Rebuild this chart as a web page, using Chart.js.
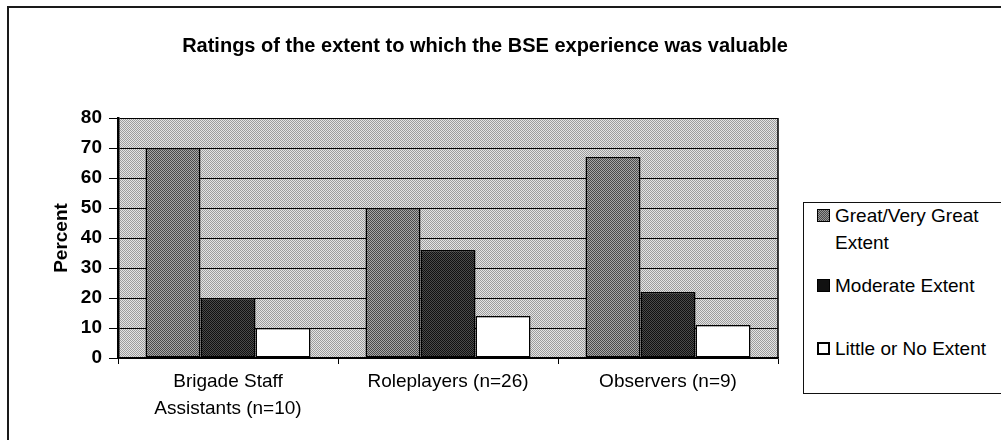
<!DOCTYPE html>
<html>
<head>
<meta charset="utf-8">
<script src="https://cdn.jsdelivr.net/npm/chart.js@4/dist/chart.umd.min.js"></script>
<style>
  html, body { margin: 0; padding: 0; background: #fff; }
  #wrap { position: relative; width: 1001px; height: 440px; overflow: hidden; background: #fff;
          font-family: "Liberation Sans", Arial, sans-serif; color: #000; }
  #frame { position: absolute; left: 7px; top: 6px; width: 1100px; height: 500px; border: 2px solid #1a1a1a; }
  #title { position: absolute; left: 0; top: 33px; width: 970px; text-align: center; font-weight: bold;
           font-size: 20px; line-height: 24px; white-space: nowrap; }
  #c { position: absolute; left: 0; top: 0; }
  #legend { position: absolute; left: 803px; top: 202px; width: 300px; height: 190px; border: 1px solid #111; background: #fff; }
  .item { position: absolute; left: 13px; font-size: 19px; line-height: 27px; white-space: nowrap; }
  .mk { position: absolute; left: 0; width: 11px; height: 11px; border: 1px solid #000; }
  .lbl { position: absolute; left: 18px; top: 0; }
</style>
</head>
<body>
<div id="wrap">
  <div id="frame"></div>
  <canvas id="c" width="1001" height="440"></canvas>
  <div id="title"></div>
  <div id="legend"></div>
</div>
<script>
// ---- data ----
const chartTitle = "Ratings of the extent to which the BSE experience was valuable";
const categories = [["Brigade Staff", "Assistants (n=10)"], "Roleplayers (n=26)", "Observers (n=9)"];
const seriesNames = ["Great/Very Great Extent", "Moderate Extent", "Little or No Extent"];
const legendLines = [["Great/Very Great", "Extent"], ["Moderate Extent"], ["Little or No Extent"]];
const greatValues = [70, 50, 67];
const moderateValues = [20, 36, 22];
const littleValues = [10, 14, 11];
const yAxisTitle = "Percent";
const yMin = 0, yMax = 80, yStep = 10;

// ---- dither-like patterns ----
function checker(a, b) {
  const t = document.createElement('canvas');
  t.width = 2; t.height = 2;
  const g = t.getContext('2d');
  g.fillStyle = a; g.fillRect(0, 0, 2, 2);
  g.fillStyle = b; g.fillRect(0, 0, 1, 1); g.fillRect(1, 1, 1, 1);
  return t;
}
const ctx = document.getElementById('c').getContext('2d');
const bgPat = ctx.createPattern(checker('#e4e4e4', '#9c9c9c'), 'repeat');
const greatPat = ctx.createPattern(checker('#a8a8a8', '#4a4a4a'), 'repeat');
const modPat = ctx.createPattern(checker('#4a4a4a', '#101010'), 'repeat');
const fills = [greatPat, modPat, '#ffffff'];
const legendFills = [checker('#a8a8a8', '#4a4a4a'), null, null];

document.getElementById('title').textContent = chartTitle;

// ---- legend (HTML) ----
const legendTops = [-1, 69, 132];
const legend = document.getElementById('legend');
legendLines.forEach((lines, i) => {
  const it = document.createElement('div');
  it.className = 'item';
  it.style.top = legendTops[i] + 'px';
  const mk = document.createElement('div');
  mk.className = 'mk';
  mk.style.top = '7px';
  if (i === 0) mk.style.background = 'repeating-conic-gradient(#4a4a4a 0 25%, #9a9a9a 0 50%) 0 0/2px 2px';
  if (i === 1) mk.style.background = '#111';
  if (i === 2) { mk.style.background = '#fff'; mk.style.border = '2px solid #000'; mk.style.width = '9px'; mk.style.height = '9px'; }
  it.appendChild(mk);
  const lb = document.createElement('div');
  lb.className = 'lbl';
  lb.innerHTML = lines.join('<br>');
  it.appendChild(lb);
  legend.appendChild(it);
});

const FONT = '"Liberation Sans", Arial, sans-serif';

const plotDecor = {
  id: 'plotDecor',
  beforeDraw(chart) {
    const a = chart.chartArea, c = chart.ctx;
    c.save();
    c.fillStyle = bgPat;
    c.fillRect(a.left, a.top, a.right - a.left, a.bottom - a.top);
    c.restore();
  },
  afterDraw(chart) {
    const a = chart.chartArea, c = chart.ctx;
    c.save();
    c.strokeStyle = '#000';
    c.lineWidth = 1.5;
    c.beginPath();
    c.moveTo(a.right, a.top);
    c.lineTo(a.right, a.bottom);
    c.stroke();
    c.restore();
  }
};

new Chart(ctx, {
  type: 'bar',
  data: {
    labels: categories,
    datasets: [
      { label: seriesNames[0], data: greatValues, backgroundColor: fills[0] },
      { label: seriesNames[1], data: moderateValues, backgroundColor: fills[1] },
      { label: seriesNames[2], data: littleValues, backgroundColor: fills[2] }
    ]
  },
  options: {
    responsive: false,
    animation: false,
    events: [],
    layout: { padding: { left: 50, right: 223, top: 118, bottom: 0 } },
    datasets: {
      bar: { categoryPercentage: 0.75, barPercentage: 1.0, borderColor: '#000', borderWidth: 1.5, borderSkipped: false }
    },
    plugins: { legend: { display: false }, title: { display: false }, tooltip: { enabled: false } },
    scales: {
      x: {
        offset: true,
        grid: { display: true, drawOnChartArea: false, drawTicks: true, tickLength: 6, color: '#000', offset: true },
        border: { display: true, color: '#000', width: 1.5 },
        ticks: { color: '#000', font: { family: FONT, size: 19, lineHeight: '27px' }, padding: 4, maxRotation: 0, autoSkip: false },
        afterFit(s) { s.height = 82; }
      },
      y: {
        min: yMin, max: yMax,
        ticks: { stepSize: yStep, color: '#000', font: { family: FONT, size: 19, weight: 'bold' }, padding: 7 },
        grid: { color: '#000', lineWidth: 1, drawTicks: true, tickLength: 9, tickColor: '#000' },
        border: { display: true, color: '#000', width: 2.5 },
        title: { display: true, text: yAxisTitle, color: '#000', font: { family: FONT, size: 19, weight: 'bold' }, padding: 0 },
        afterFit(s) { s.width = 68; }
      }
    }
  },
  plugins: [plotDecor]
});
</script>
</body>
</html>
